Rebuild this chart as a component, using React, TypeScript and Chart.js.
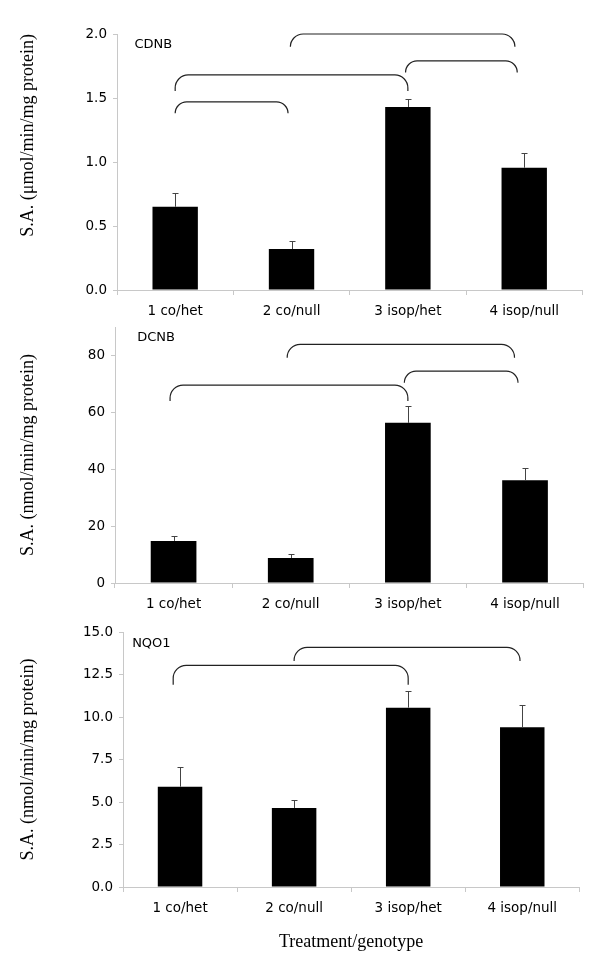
import React, { useEffect, useRef } from "react";
import { Chart, registerables } from "chart.js";

Chart.register(...registerables);

// ---------- data ----------
const categories = ["1 co/het", "2 co/null", "3 isop/het", "4 isop/null"];

const cdnbValues = [0.65, 0.32, 1.43, 0.955];
const cdnbErrors = [0.11, 0.065, 0.06, 0.115];
const dcnbValues = [14.8, 8.8, 56.3, 36.1];
const dcnbErrors = [1.6, 1.5, 6.1, 4.2];
const nqo1Values = [5.9, 4.65, 10.55, 9.4];
const nqo1Errors = [1.15, 0.45, 0.95, 1.3];

// significance brackets: [from category, to category, top value, end value]
const cdnbBrackets = [
  [0.0, 0.97, 1.47, 1.38],
  [0.0, 2.0, 1.68, 1.555],
  [1.98, 2.94, 1.79, 1.7],
  [0.99, 2.92, 2.0, 1.9],
];
const dcnbBrackets = [
  [-0.03, 2.0, 69.6, 64],
  [1.97, 2.94, 74.5, 70.4],
  [0.97, 2.91, 83.9, 79.2],
];
const nqo1Brackets = [
  [-0.06, 2.0, 13.04, 11.9],
  [1.0, 2.98, 14.1, 13.3],
];

const cdnbLabel = ["CDNB", -0.35, 1.92];
const dcnbLabel = ["DCNB", -0.31, 86.4];
const nqo1Label = ["NQO1", -0.42, 14.3];

// ---------- drawing helpers ----------
const annotPlugin = {
  id: "annot",
  afterDatasetsDraw(chart: any, _args: any, opts: any) {
    const { ctx } = chart;
    const xs = chart.scales.x;
    const ys = chart.scales.y;
    const meta = chart.getDatasetMeta(0);
    const values: number[] = opts.values;
    const errors: number[] = opts.errors;
    ctx.save();
    // error bars
    ctx.strokeStyle = "#444";
    ctx.lineWidth = 1;
    meta.data.forEach((el: any, i: number) => {
      const x = Math.round(el.x) + 0.5;
      const y0 = ys.getPixelForValue(values[i]);
      const y1 = Math.round(ys.getPixelForValue(values[i] + errors[i])) + 0.5;
      ctx.beginPath();
      ctx.moveTo(x, y0);
      ctx.lineTo(x, y1);
      ctx.moveTo(x - 3, y1);
      ctx.lineTo(x + 3, y1);
      ctx.stroke();
    });
    // brackets
    ctx.strokeStyle = "#222";
    ctx.lineWidth = 1.2;
    (opts.brackets || []).forEach((b: number[]) => {
      const x1 = xs.getPixelForValue(b[0]);
      const x2 = xs.getPixelForValue(b[1]);
      const yt = ys.getPixelForValue(b[2]);
      const ye = ys.getPixelForValue(b[3]);
      const r = Math.min(13, ye - yt);
      ctx.beginPath();
      ctx.moveTo(x1, ye);
      ctx.arcTo(x1, yt, x1 + r, yt, r);
      ctx.lineTo(x2 - r, yt);
      ctx.arcTo(x2, yt, x2, ye, r);
      ctx.lineTo(x2, ye);
      ctx.stroke();
    });
    // panel label
    if (opts.label) {
      ctx.fillStyle = "#000";
      ctx.font = "13px 'DejaVu Sans'";
      ctx.textAlign = "left";
      ctx.textBaseline = "middle";
      ctx.fillText(
        opts.label[0],
        xs.getPixelForValue(opts.label[1]),
        ys.getPixelForValue(opts.label[2])
      );
    }
    ctx.restore();
  },
};

const tickFont = { family: "'DejaVu Sans'", size: 13.5 };
const titleFont = { family: "'Liberation Serif'", size: 18 };
const axisGray = "#c8c8c8";

type PanelCfg = {
  values: number[];
  errors: number[];
  brackets: number[][];
  label: any[];
  yMax: number;
  yStep: number;
  decimals: number;
  yTitle: string;
  yTitleAlign: string;
  yWidth: number;
  padTop: number;
  padRight: number;
  xHeight: number;
  xTitle?: string;
};

function buildConfig(c: PanelCfg): any {
  return {
    type: "bar",
    data: {
      labels: categories,
      datasets: [
        {
          data: c.values,
          backgroundColor: "#000",
          borderWidth: 0,
          categoryPercentage: 1,
          barPercentage: 0.39,
        },
      ],
    },
    plugins: [annotPlugin],
    options: {
      responsive: false,
      animation: false,
      events: [],
      layout: { padding: { top: c.padTop, right: c.padRight, bottom: 0, left: 0 } },
      plugins: {
        legend: { display: false },
        tooltip: { enabled: false },
        annot: { values: c.values, errors: c.errors, brackets: c.brackets, label: c.label },
      },
      scales: {
        x: {
          grid: {
            offset: true,
            drawOnChartArea: false,
            drawTicks: true,
            tickLength: 5,
            color: axisGray,
          },
          border: { color: axisGray, width: 1 },
          ticks: { font: tickFont, color: "#000", padding: 8, maxRotation: 0 },
          title: c.xTitle
            ? {
                display: true,
                text: c.xTitle,
                font: titleFont,
                color: "#000",
                padding: { top: 0, bottom: 15.5 },
              }
            : { display: false },
          afterFit: (s: any) => {
            s.height = c.xHeight;
          },
        },
        y: {
          min: 0,
          max: c.yMax,
          grid: {
            drawOnChartArea: false,
            drawTicks: true,
            tickLength: 4,
            color: axisGray,
          },
          border: { color: axisGray, width: 1 },
          ticks: {
            stepSize: c.yStep,
            includeBounds: false,
            font: tickFont,
            color: "#000",
            padding: 6,
            callback: (v: any) => Number(v).toFixed(c.decimals),
          },
          title: {
            display: true,
            text: c.yTitle,
            font: titleFont,
            color: "#000",
            align: c.yTitleAlign,
            padding: { top: 17, bottom: 0 },
          },
          afterFit: (s: any) => {
            s.width = c.yWidth;
          },
        },
      },
    },
  };
}

function Panel({ top, height, cfg }: { top: number; height: number; cfg: PanelCfg }) {
  const ref = useRef<HTMLCanvasElement | null>(null);
  useEffect(() => {
    if (!ref.current) return;
    const chart = new Chart(ref.current, buildConfig(cfg));
    return () => chart.destroy();
  }, []);
  return (
    <canvas
      ref={ref}
      width={611}
      height={height}
      style={{ position: "absolute", left: 0, top, display: "block" }}
    />
  );
}

export default function App() {
  const p1: PanelCfg = {
    values: cdnbValues,
    errors: cdnbErrors,
    brackets: cdnbBrackets,
    label: cdnbLabel,
    yMax: 2,
    yStep: 0.5,
    decimals: 1,
    yTitle: "S.A. (\u03bcmol/min/mg protein)",
    yTitleAlign: "end",
    yWidth: 117,
    padTop: 34,
    padRight: 28.6,
    xHeight: 30,
  };
  const p2: PanelCfg = {
    values: dcnbValues,
    errors: dcnbErrors,
    brackets: dcnbBrackets,
    label: dcnbLabel,
    yMax: 90,
    yStep: 20,
    decimals: 0,
    yTitle: "S.A. (nmol/min/mg protein)",
    yTitleAlign: "center",
    yWidth: 115,
    padTop: 20,
    padRight: 27.4,
    xHeight: 37,
  };
  const p3: PanelCfg = {
    values: nqo1Values,
    errors: nqo1Errors,
    brackets: nqo1Brackets,
    label: nqo1Label,
    yMax: 15,
    yStep: 2.5,
    decimals: 1,
    yTitle: "S.A. (nmol/min/mg protein)",
    yTitleAlign: "center",
    yWidth: 123,
    padTop: 20,
    padRight: 31.7,
    xHeight: 82,
    xTitle: "Treatment/genotype",
  };
  return (
    <div style={{ position: "absolute", left: 0, top: 0, width: 611, height: 969, background: "#fff" }}>
      <Panel top={0} height={320} cfg={p1} />
      <Panel top={307} height={313} cfg={p2} />
      <Panel top={612} height={357} cfg={p3} />
    </div>
  );
}
